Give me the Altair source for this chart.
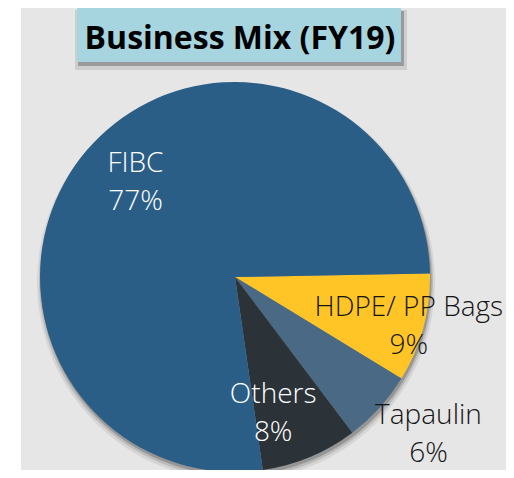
import math
import altair as alt
import pandas as pd

# ---- data ----
categories = ["HDPE/ PP Bags", "Tapaulin", "Others", "FIBC"]
shares = [9, 6, 8, 77]
label_texts = ["HDPE/ PP Bags\n9%", "Tapaulin\n6%", "Others\n8%", "FIBC\n77%"]
title_text = "Business Mix (FY19)"

# ---- styles / layout ----
slice_colors = ["#ffc526", "#4a6984", "#2b3339", "#2a5e86"]
label_colors = ["#151515", "#151515", "#ffffff", "#ffffff"]
label_radius = [181, 250, 142, 137]
label_angle_shift = [1, -2.9, 7, 3]

CX, CY, R = 214, 269, 195
START = math.radians(89)

df = pd.DataFrame({
    "category": categories,
    "share": shares,
    "idx": list(range(len(categories))),
    "label": label_texts,
    "lcolor": label_colors,
    "lr": label_radius,
    "dang": label_angle_shift,
})

one = pd.DataFrame({"k": [1]})

shadows = []
for off, extra, op in [((1, 5), 4, 0.07), ((1, 4), 2, 0.12), ((1, 3), 0.5, 0.2)]:
    shadows.append(
        alt.Chart(one).mark_arc(theta=0, theta2=2 * math.pi, radius=R + extra,
                                color="#000000", opacity=op)
        .encode(x=alt.value(CX + off[0]), y=alt.value(CY + off[1]))
    )

pie = alt.Chart(df).mark_arc(radius=R).encode(
    theta=alt.Theta("share:Q", stack=True,
                    scale=alt.Scale(range=[START, START + 2 * math.pi])),
    color=alt.Color("category:N",
                    scale=alt.Scale(domain=categories, range=slice_colors),
                    legend=None),
    order=alt.Order("idx:Q"),
    x=alt.value(CX),
    y=alt.value(CY),
)

labels = alt.Chart(df).transform_window(
    cum="sum(share)", sort=[alt.SortField("idx")], frame=[None, 0]
).transform_joinaggregate(
    total="sum(share)"
).transform_calculate(
    ang=f"{START} + 2*PI*(datum.cum - datum.share/2)/datum.total + datum.dang*PI/180",
).transform_calculate(
    px=f"{CX} + datum.lr*sin(datum.ang)",
    py=f"{CY} - datum.lr*cos(datum.ang)",
).mark_text(
    font="Open Sans", fontWeight=300, fontSize=28, lineBreak="\n",
    lineHeight=38, align="center", baseline="middle", dy=-19,
).encode(
    x=alt.X("px:Q", scale=None, axis=None),
    y=alt.Y("py:Q", scale=None, axis=None),
    text="label:N",
    color=alt.Color("lcolor:N", scale=None, legend=None),
)

title_shadow1 = alt.Chart(one).mark_rect(color="#000000", opacity=0.1).encode(
    x=alt.value(54), x2=alt.value(386), y=alt.value(2), y2=alt.value(62))
title_shadow2 = alt.Chart(one).mark_rect(color="#000000", opacity=0.25).encode(
    x=alt.value(57), x2=alt.value(383), y=alt.value(3), y2=alt.value(58))
title_box = alt.Chart(one).mark_rect(color="#a6d5df").encode(
    x=alt.value(56), x2=alt.value(380), y=alt.value(0), y2=alt.value(54))
title = alt.Chart(one).mark_text(
    text=title_text, font="Open Sans", fontWeight="bold", fontSize=32,
    align="center", baseline="alphabetic", color="#000000",
).encode(x=alt.value(219), y=alt.value(41))

chart = alt.layer(
    *shadows, pie, labels, title_shadow1, title_shadow2, title_box, title
).properties(
    width=485, height=462,
    autosize=alt.AutoSizeParams(type="none"),
    padding={"left": 13, "top": 0, "right": 0, "bottom": 0},
    background="#ffffff",
).configure_view(fill="#e6e6e6", stroke=None)

chart.save("out.html", embed_options={"renderer": "svg", "actions": False})
